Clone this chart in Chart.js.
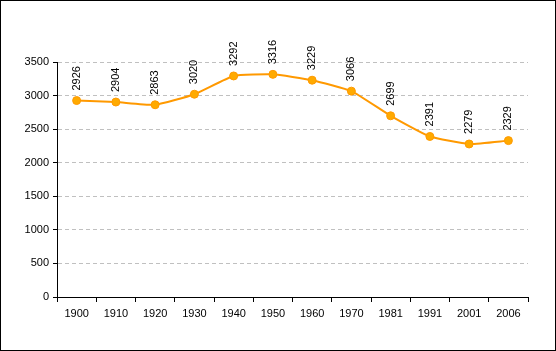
<!DOCTYPE html>
<html>
<head>
<meta charset="utf-8">
<script src="https://cdn.jsdelivr.net/npm/chart.js@4/dist/chart.umd.min.js"></script>
<style>
  html, body { margin: 0; padding: 0; background: #fff; }
  #wrap { position: relative; width: 554px; height: 349px; border: 1px solid #000; }
</style>
</head>
<body>
<div id="wrap"><canvas id="myChart" width="554" height="349"></canvas></div>
<script>
// years and population values
let years = ["1900", "1910", "1920", "1930", "1940", "1950", "1960", "1970", "1981", "1991", "2001", "2006"];
let population = [2926, 2904, 2863, 3020, 3292, 3316, 3229, 3066, 2699, 2391, 2279, 2329];
let yTicks = [0, 500, 1000, 1500, 2000, 2500, 3000, 3500];

// draw the value above each point, rotated
const valueLabels = {
  id: "valueLabels",
  afterDatasetsDraw(chart) {
    let ctx = chart.ctx;
    let meta = chart.getDatasetMeta(0);
    ctx.save();
    ctx.font = "11px Arial, 'Liberation Sans', sans-serif";
    ctx.fillStyle = "#000";
    ctx.textAlign = "left";
    ctx.textBaseline = "middle";
    meta.data.forEach((pt, i) => {
      ctx.save();
      ctx.translate(pt.x, pt.y - 10);
      ctx.rotate(-Math.PI / 2);
      ctx.fillText(population[i], 0, 0);
      ctx.restore();
    });
    ctx.restore();
  }
};

let ctx = document.getElementById("myChart").getContext("2d");

let myChart = new Chart(ctx, {
  type: "line",
  data: {
    labels: years,
    datasets: [
      {
        data: population,
        borderColor: "#FF9900",
        borderWidth: 2,
        backgroundColor: "#FFAA00",
        pointBackgroundColor: "#FFAA00",
        pointBorderColor: "#FF9900",
        pointRadius: 4,
        pointBorderWidth: 1,
        tension: 0.15,
        fill: false
      }
    ]
  },
  options: {
    responsive: false,
    animation: false,
    events: [],
    layout: { padding: { left: 0, top: 61, right: 27, bottom: 21 } },
    plugins: {
      legend: { display: false },
      tooltip: { enabled: false }
    },
    scales: {
      x: {
        offset: true,
        grid: {
          offset: true,
          drawOnChartArea: false,
          drawTicks: true,
          tickLength: 5,
          tickColor: "#000"
        },
        border: { color: "#000", width: 1 },
        ticks: {
          color: "#000",
          font: { family: "Arial, 'Liberation Sans', sans-serif", size: 11 },
          padding: 5,
          maxRotation: 0,
          autoSkip: false
        },
        afterFit(scale) { scale.height = 32; }
      },
      y: {
        min: 0,
        max: 3500,
        afterBuildTicks(scale) {
          scale.ticks = yTicks.map(v => ({ value: v }));
        },
        grid: {
          color: ctx => (ctx.tick && ctx.tick.value === 0 ? "rgba(0,0,0,0)" : "#C0C0C0"),
          tickColor: "#000",
          tickLength: 4
        },
        border: { color: "#000", width: 1, dash: [4, 3] },
        ticks: {
          color: "#000",
          font: { family: "Arial, 'Liberation Sans', sans-serif", size: 11 },
          padding: 4,
          callback: v => String(v)
        },
        afterFit(scale) { scale.width = 56; }
      }
    }
  },
  plugins: [valueLabels]
});
</script>
</body>
</html>
